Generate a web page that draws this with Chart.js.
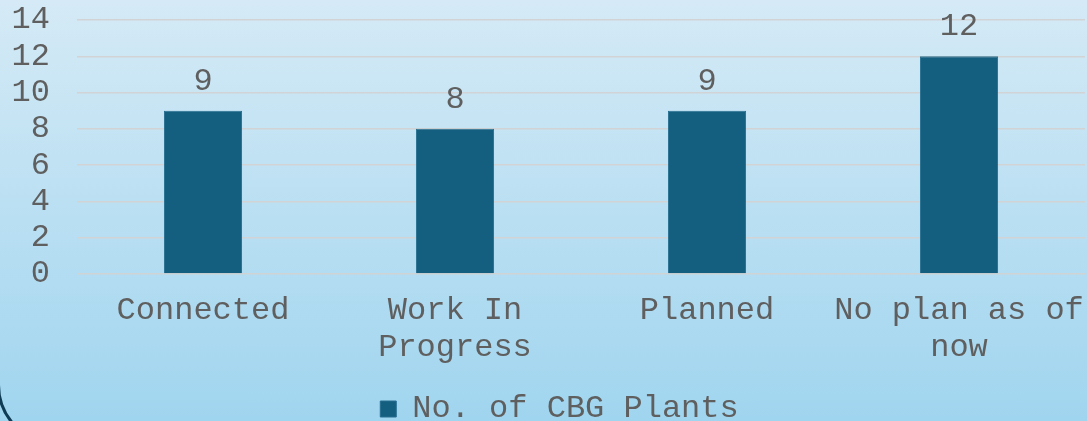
<!DOCTYPE html>
<html>
<head>
<meta charset="utf-8">
<script src="https://cdn.jsdelivr.net/npm/chart.js@4/dist/chart.umd.min.js"></script>
<style>
  html, body { margin: 0; padding: 0; }
  body {
    width: 1087px; height: 421px; overflow: hidden; position: relative;
    background: linear-gradient(to bottom, #d5eaf6 0%, #a0d5ef 100%);
  }
  #frame {
    position: absolute; left: -3px; top: -200px; width: 1300px; height: 645px;
    box-sizing: border-box; border: 3px solid #0f3b54; border-radius: 60px;
  }
  #wrap { position: absolute; left: 0; top: 0; width: 1087px; height: 421px; }
</style>
</head>
<body>
<div id="frame"></div>
<div id="wrap"><canvas id="chart" width="1087" height="421"></canvas></div>
<script>
// ==============================
// データ
// ==============================
const categories = [
  "Connected",
  ["Work In", "Progress"],
  "Planned",
  ["No plan as of", "now"]
];
const plantCounts = [9, 8, 9, 12];
const seriesName = "No. of CBG Plants";
const yTicks = [0, 2, 4, 6, 8, 10, 12, 14];

const FONT = "'Liberation Mono', 'Courier New', monospace";
const TEXT = "#5f5f5f";

// ==============================
// 値ラベル（棒の上）
// ==============================
const valueLabels = {
  id: "valueLabels",
  afterDatasetsDraw(chart) {
    const ctx = chart.ctx;
    const meta = chart.getDatasetMeta(0);
    ctx.save();
    ctx.font = "32px " + FONT;
    ctx.fillStyle = TEXT;
    ctx.textAlign = "center";
    ctx.textBaseline = "alphabetic";
    meta.data.forEach((bar, i) => {
      ctx.fillText(String(chart.data.datasets[0].data[i]), bar.x, bar.y - 21);
    });
    ctx.restore();
  }
};

// 凡例の位置合わせ（元図に合わせて少し右下へ）
const legendShift = {
  id: "legendShift",
  afterLayout(chart) {
    const lg = chart.legend;
    lg.left += 17;
    lg.right += 17;
    lg.top += 16;
    lg.bottom += 16;
  }
};

new Chart(document.getElementById("chart"), {
  type: "bar",
  data: {
    labels: categories,
    datasets: [{
      label: seriesName,
      data: plantCounts,
      backgroundColor: "#145e80",
      borderColor: "#276f90",
      borderWidth: 1,
      barPercentage: 0.31,
      categoryPercentage: 1
    }]
  },
  options: {
    responsive: false,
    animation: false,
    layout: { padding: { top: 20, right: 2, left: 0, bottom: 2 } },
    scales: {
      x: {
        grid: { display: false, drawTicks: false },
        border: { display: false },
        ticks: {
          color: TEXT,
          font: { family: FONT, size: 32, lineHeight: 1.15 },
          padding: 18,
          maxRotation: 0,
          autoSkip: false
        },
        afterFit(scale) {
          scale.paddingRight = 0;
          scale.paddingLeft = 0;
          scale.height = 99;
        }
      },
      y: {
        min: 0,
        max: 14,
        afterBuildTicks(scale) { scale.ticks = yTicks.map(v => ({ value: v })); },
        grid: { color: "rgba(210,210,210,0.95)", lineWidth: 1.5, drawTicks: false },
        border: { display: false },
        ticks: {
          color: TEXT,
          font: { family: FONT, size: 32 },
          padding: 27,
          autoSkip: false
        },
        afterFit(scale) {
          scale.width = 77;
          scale.paddingTop = 0;
          scale.paddingBottom = 0;
        }
      }
    },
    plugins: {
      legend: {
        position: "bottom",
        labels: {
          color: TEXT,
          font: { family: FONT, size: 32, lineHeight: 0.5 },
          boxWidth: 16,
          boxHeight: 16,
          padding: 4
        }
      },
      tooltip: { enabled: false }
    }
  },
  plugins: [valueLabels, legendShift]
});
</script>
</body>
</html>
